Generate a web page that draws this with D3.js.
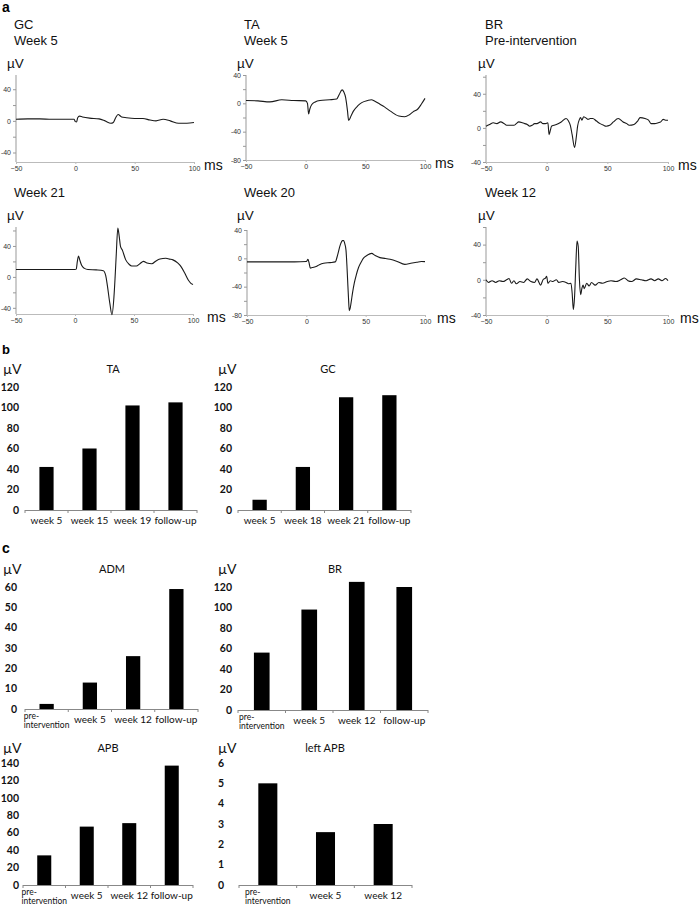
<!DOCTYPE html>
<html>
<head>
<meta charset="utf-8">
<script src="https://cdn.jsdelivr.net/npm/d3@7"></script>
<style>
  body { margin: 0; background: #fff; }
  svg { display: block; }
</style>
</head>
<body>
<div id="fig"></div>
<script>

// ---------- panel a : EMG traces, [ms, µV] ----------
var gcWeek5 = [[-50,2],[-40,2.5],[-30,2.5],[-20,2],[-10,2],[-1,2],[0,-1],[1,-1.5],[2,4],[3.5,6],[6,5],[12,3.5],[20,2.5],[25,0],[30,-3],[32,-2],[34,4],[36,8],[39,5],[43,4],[50,3],[57,3],[63,1],[68,0],[74,2],[80,0],[87,-3],[94,-3],[100,-2]];

var taWeek5 = [[-50,4],[-40,3.5],[-30,2],[-20,5],[-10,4],[0,3.5],[1.5,0],[2.5,-15],[3.5,-8],[5,-2],[8,2],[12,4],[20,5],[26,6],[28,12],[30.5,19],[32,16],[33.5,8],[35,-10],[36,-24],[38,-18],[40,-11],[44,-3],[47,1],[52,4],[55,5],[58,3],[62,-1],[66,-5],[71,-11],[78,-18],[83,-19],[87,-16],[90,-12],[94,-8],[97,-1],[100,7]];

var brPre = [[-50,2],[-47,4],[-44,6],[-41,5],[-38,7],[-35,5],[-33,3],[-30,3],[-27,3],[-25,5],[-23,7],[-20,6],[-18,5],[-16,4],[-14,2],[-12,3],[-10,5],[-8,5],[-5,7],[-3,5],[-1,5],[1,6],[2,-8],[3,-3],[4,2],[6,3],[8,4],[12,7],[16,11],[18,8],[19.5,3],[21,-8],[23,-23],[24.5,-10],[25.5,2],[27,10],[28,12],[29,9],[30.5,13],[32,12],[34,10],[36,11],[38,11],[41,8],[44,5],[47,3],[49,2],[52,3],[55,7],[59,11],[63,7],[66,5],[68,3],[72,4],[75,8],[77,12],[81,11],[84,9],[86,5],[89,5],[92,6],[94,7],[96,10],[98,9],[100,9]];

var gcWeek21 = [[-50,9.5],[-30,9.5],[-10,9.5],[0,9.5],[1,10],[2,20],[3,27],[4,22],[5.6,15],[8,11],[11,9.5],[18,9],[24,8],[26,2],[27.5,-12],[29.6,-35],[31.3,-49],[33,-26],[34,0],[35,30],[36.3,63],[37.5,52],[38.6,39],[40,35],[43,22],[46,16],[48,14],[52,14],[55,17],[58,20],[61,18],[65,17],[69,21],[72,23],[77,24],[80,23],[83,22],[87,18],[90,13],[93,5],[96,-4],[98,-8],[100,-10]];

var taWeek20 = [[-50,-5],[-30,-5],[-10,-5],[0,-4.5],[1.4,-1.5],[2.5,-8],[3.4,-14],[5,-13],[7.6,-12],[11,-9],[14.6,-7],[20,-6],[24.4,-5],[26.4,5],[28.6,19],[30.5,25],[31.4,25],[32.5,20],[33.4,12],[34.2,-10],[34.8,-31],[35.5,-55],[36.2,-74],[37,-70],[37.6,-64],[39,-48],[40.4,-35],[42,-24],[44,-13],[46,-6],[48,0],[51,4],[55,7],[58,4],[62,1],[66,0],[70.6,-1.4],[76,-4],[83,-8.5],[88,-7],[93,-5.6],[97,-4.5],[100,-4.7]];

var brWeek12 = [[-50,0],[-48,-3],[-45,-1],[-42,-3],[-39,-1],[-36,-2],[-33,0],[-31,1.5],[-29,-4],[-27,-1],[-25,-4.5],[-22,-2],[-19,-3],[-16,1],[-13,-2],[-10,-3],[-8,1],[-5,-6],[-3,0],[-1,2],[0,4],[1,-4],[3,-1],[5,-2],[8,0],[10,-3],[13,-2],[16,-3],[18,-4.5],[20,-4],[21,-15],[22,-34],[23,-19],[24,15],[25,44],[26,38],[27,0],[28,-17],[29,-10],[30,-6],[31,-10],[33,-4],[35,-7],[37,-3],[40,-6],[43,-3],[46,-4],[50,-2],[53,-1],[57,-2],[61,0],[64,2],[67,-1],[70,-2],[74,1],[78,0],[82,-1],[86,1],[89,-1],[92,1],[95,-1],[98,1.5],[100,-1]];

// ---------- panels b and c : amplitudes (µV) ----------
var taWeeks = ["week 5", "week 15", "week 19", "follow-up"];
var taAmp = [42, 60, 102, 105];

var gcWeeks = ["week 5", "week 18", "week 21", "follow-up"];
var gcAmp = [10, 42, 110, 112];

var visits = ["pre-intervention", "week 5", "week 12", "follow-up"];
var admAmp = [2.5, 13, 26, 59];
var brAmp = [56, 98, 125, 120];
var apbAmp = [34, 67, 71, 137];

var leftVisits = ["pre-intervention", "week 5", "week 12"];
var leftApbAmp = [5.0, 2.6, 3.0];

var msTicks = [-50, 0, 50, 100];

// ---------------------------------------------------------------
var svg = d3.select("#fig").append("svg")
    .attr("width", 700)
    .attr("height", 906);

var arial = "'Liberation Sans', Arial, sans-serif";
var cal = "Lato, 'Open Sans', sans-serif";

// panel letters
svg.append("text").attr("x", 2).attr("y", 12).text("a")
    .style("font", "bold 14px " + arial);
svg.append("text").attr("x", 2).attr("y", 354).text("b")
    .style("font", "bold 13px " + arial);
svg.append("text").attr("x", 2).attr("y", 553).text("c")
    .style("font", "bold 14px " + arial);

// trace panels
var tracePanels = [
  {lines: ["GC", "Week 5"], data: gcWeek5, x0: 16, x1: 194, yTop: 75, yBot: 162, yDom: [-52, 58], tx: 14, ty: 29, msX: 204},
  {lines: ["TA", "Week 5"], data: taWeek5, x0: 246, x1: 425, yTop: 75, yBot: 160, yDom: [-80, 40], tx: 244, ty: 29, msX: 435},
  {lines: ["BR", "Pre-intervention"], data: brPre, x0: 486, x1: 668, yTop: 75, yBot: 162, yDom: [-40, 62], tx: 485, ty: 29, msX: 678},
  {lines: ["Week 21"], data: gcWeek21, x0: 16, x1: 193, yTop: 227, yBot: 314, yDom: [-48, 64.5], tx: 14, ty: 197, msX: 207},
  {lines: ["Week 20"], data: taWeek20, x0: 247, x1: 425, yTop: 230, yBot: 315, yDom: [-80, 40], tx: 244, ty: 197, msX: 437},
  {lines: ["Week 12"], data: brWeek12, x0: 486, x1: 668, yTop: 227, yBot: 315, yDom: [-40, 60], tx: 485, ty: 197, msX: 680}
];

tracePanels.forEach(function(p) {
  var x = d3.scaleLinear().domain([-50, 100]).range([p.x0, p.x1]);
  var y = d3.scaleLinear().domain(p.yDom).range([p.yBot, p.yTop]);
  var g = svg.append("g");

  // titles
  p.lines.forEach(function(t, i) {
    g.append("text").attr("x", p.tx).attr("y", p.ty + i * 16).text(t)
      .style("font", "13px " + arial).style("fill", "#111");
  });
  var uvY = p.lines.length == 2 ? 68 : 220;
  g.append("text").attr("x", p.tx - 7).attr("y", uvY).text("µV")
    .style("font", "13.5px " + arial).style("fill", "#111");

  // y axis, ticks every 20, labels every 40
  var yt = d3.range(Math.ceil(p.yDom[0] / 20) * 20, p.yDom[1] + 0.01, 20);
  var ya = g.append("g").attr("transform", "translate(" + p.x0 + ",0)")
    .call(d3.axisLeft(y).tickValues(yt).tickSize(3).tickSizeOuter(0).tickPadding(2)
      .tickFormat(function(d) { return d % 40 == 0 ? d : ""; }));
  ya.select(".domain").attr("d", "M0," + p.yTop + "V" + p.yBot).attr("stroke", "#999");
  ya.selectAll("line").attr("stroke", "#999");
  ya.selectAll("text").style("font", "7px " + arial).style("fill", "#333");

  // x axis
  var xa = g.append("g").attr("transform", "translate(0," + p.yBot + ")")
    .call(d3.axisBottom(x).tickValues(msTicks).tickSize(2).tickSizeOuter(0).tickPadding(2));
  xa.select(".domain").attr("stroke", "#bbb");
  xa.selectAll("line").attr("stroke", "#bbb");
  xa.selectAll("text").style("font", "7px " + arial).style("fill", "#333");

  g.append("text").attr("x", p.msX).attr("y", p.yBot + 8).text("ms")
    .style("font", "14px " + arial).style("fill", "#111");

  // trace
  var line = d3.line()
    .x(function(d) { return x(d[0]); })
    .y(function(d) { return y(d[1]); })
    .curve(d3.curveMonotoneX);
  g.append("path").datum(p.data)
    .attr("d", line)
    .attr("fill", "none")
    .attr("stroke", "#1a1a1a")
    .attr("stroke-width", 1.1);
});

// bar panels
var barPanels = [
  {title: "TA", cats: taWeeks, vals: taAmp, x0: 25, x1: 197, y0: 510, yTopPx: 387, yMax: 120, step: 20, lblX: 19, uvX: 3, titleX: 113, titleY: 373},
  {title: "GC", cats: gcWeeks, vals: gcAmp, x0: 238, x1: 411, y0: 510, yTopPx: 387, yMax: 120, step: 20, lblX: 232, uvX: 218, titleX: 328, titleY: 373},
  {title: "ADM", cats: visits, vals: admAmp, x0: 25, x1: 198, y0: 709, yTopPx: 587, yMax: 60, step: 10, lblX: 17, uvX: 3, titleX: 112, titleY: 573},
  {title: "BR", cats: visits, vals: brAmp, x0: 238, x1: 428, y0: 710, yTopPx: 587, yMax: 120, step: 20, lblX: 232, uvX: 218, titleX: 335, titleY: 573},
  {title: "APB", cats: visits, vals: apbAmp, x0: 23, x1: 193, y0: 885, yTopPx: 763, yMax: 140, step: 20, lblX: 19, uvX: 3, titleX: 108, titleY: 752},
  {title: "left APB", cats: leftVisits, vals: leftApbAmp, x0: 239, x1: 412, y0: 885, yTopPx: 763, yMax: 6, step: 1, lblX: 224, uvX: 218, titleX: 325, titleY: 752}
];

barPanels.forEach(function(p) {
  var x = d3.scaleBand().domain(p.cats).range([p.x0, p.x1])
    .paddingInner(0.67).paddingOuter(0.335);
  var y = d3.scaleLinear().domain([0, p.yMax]).range([p.y0, p.yTopPx]);
  var g = svg.append("g");

  g.append("text").attr("x", p.uvX).attr("y", p.titleY + 1).text("µV")
    .style("font", "14px " + cal).style("fill", "#111");
  g.append("text").attr("x", p.titleX).attr("y", p.titleY).text(p.title)
    .attr("text-anchor", "middle")
    .style("font", "11px " + cal).style("fill", "#111");

  // y tick labels
  g.selectAll(".yl").data(d3.range(0, p.yMax + p.step / 2, p.step)).enter()
    .append("text")
    .attr("x", p.lblX)
    .attr("y", function(d) { return y(d); })
    .attr("dy", "0.36em")
    .attr("text-anchor", "end")
    .text(function(d) { return d; })
    .style("font", "bold 10.5px " + cal).style("fill", "#111");

  // bars
  g.selectAll("rect").data(p.vals).enter().append("rect")
    .attr("x", function(d, i) { return x(p.cats[i]); })
    .attr("width", x.bandwidth())
    .attr("y", function(d) { return y(d); })
    .attr("height", function(d) { return p.y0 - y(d); })
    .attr("fill", "#000");

  // category axis with separator ticks
  g.append("line").attr("x1", p.x0).attr("x2", p.x1)
    .attr("y1", p.y0 + 0.5).attr("y2", p.y0 + 0.5)
    .attr("stroke", "#888");
  g.selectAll(".sep").data(d3.range(p.cats.length + 1)).enter().append("line")
    .attr("x1", function(i) { return p.x0 + i * x.step(); })
    .attr("x2", function(i) { return p.x0 + i * x.step(); })
    .attr("y1", p.y0).attr("y2", p.y0 + 3)
    .attr("stroke", "#888");

  p.cats.forEach(function(c) {
    var cx = x(c) + x.bandwidth() / 2;
    if (c == "pre-intervention") {
      var t2 = g.append("text").attr("x", cx).attr("y", p.y0 + 19)
        .attr("text-anchor", "middle").text("intervention")
        .style("font", "8.5px " + cal).style("fill", "#111");
      var w = t2.node().getComputedTextLength();
      g.append("text").attr("x", cx - w / 2).attr("y", p.y0 + 10).text("pre-")
        .style("font", "8.5px " + cal).style("fill", "#111");
    } else {
      g.append("text").attr("x", cx).attr("y", p.y0 + 14)
        .attr("text-anchor", "middle").text(c)
        .style("font", "10px " + cal).style("fill", "#111");
    }
  });
});

</script>
</body>
</html>
